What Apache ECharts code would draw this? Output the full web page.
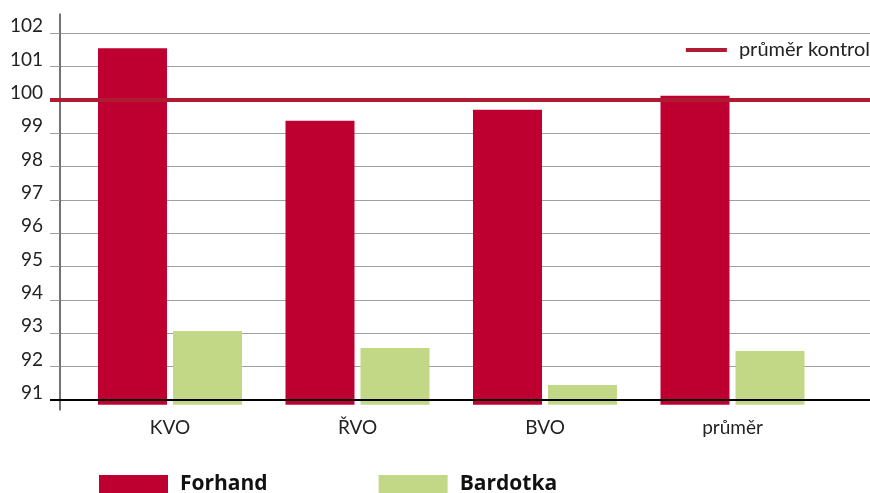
<!DOCTYPE html>
<html><head><meta charset="utf-8">
<script src="https://cdn.jsdelivr.net/npm/echarts@6/dist/echarts.min.js"></script>
<style>html,body{margin:0;padding:0;background:#fff}#c{width:870px;height:493px}</style>
</head><body><div id="c"></div>
<script>
const categories = ['KVO', 'ŘVO', 'BVO', 'průměr'];
const forhand = [101.55, 99.38, 99.71, 100.13];
const bardotka = [93.07, 92.56, 91.45, 92.47];
const controlMean = 100;
const baseLine = 91;
const yTicks = [91, 92, 93, 94, 95, 96, 97, 98, 99, 100, 101, 102];

const RED = '#be0030', GREEN = '#c3d887', LINE_RED = '#b01a32';
const FONT = 'Lato';

const chart = echarts.init(document.getElementById('c'), null, {renderer: 'canvas'});
chart.setOption({
  animation: false,
  backgroundColor: '#fff',
  grid: [
    {left: 50, right: 0, top: 14, bottom: 83, outerBoundsMode: 'none', containLabel: false},
    {left: 76.25, right: 43.75, top: 14, bottom: 88.3, outerBoundsMode: 'none', containLabel: false}
  ],
  legend: [
    {
      data: ['průměr kontrol'], right: 0, top: 40, icon: 'rect', padding: 0,
      itemWidth: 41, itemHeight: 4, itemStyle: {color: LINE_RED},
      textStyle: {fontFamily: FONT, fontSize: 20, color: '#222', lineHeight: 20, padding: [0, 0, 0, 7]}
    },
    {
      data: ['Forhand', 'Bardotka'], left: 99, top: 474, icon: 'rect', padding: 0,
      itemWidth: 69, itemHeight: 19, itemGap: 111,
      textStyle: {fontFamily: 'Open Sans', fontWeight: 'bold', fontSize: 21, color: '#111', padding: [0, 0, 0, 7]}
    }
  ],
  xAxis: [
    {gridIndex: 0, type: 'category', data: categories, show: false},
    {gridIndex: 1, type: 'category', data: categories,
     axisLine: {show: false}, axisTick: {show: false},
     axisLabel: {fontFamily: FONT, fontSize: 19, color: '#222', margin: 14}}
  ],
  yAxis: [
    {gridIndex: 0, type: 'value', min: 90.7, max: 102.58, interval: 1, offset: -10,
     axisLine: {show: true, lineStyle: {color: '#444', width: 1.5}},
     axisTick: {show: true, length: 10, lineStyle: {color: '#a0a0a0'},
       customValues: yTicks},
     splitLine: {show: true, lineStyle: {color: '#a0a0a0', width: 1}},
     axisLabel: {fontFamily: FONT, fontSize: 19, color: '#222', margin: 17,
       verticalAlign: 'bottom', lineHeight: 14, customValues: yTicks}
    },
    {gridIndex: 1, type: 'value', min: 90.86, max: 102.58, show: false, splitLine: {show: false}}
  ],
  series: [
    {
      name: 'Forhand', type: 'bar', xAxisIndex: 1, yAxisIndex: 1, data: forhand,
      barWidth: 69, barGap: '8.7%', itemStyle: {color: RED}
    },
    {
      name: 'Bardotka', type: 'bar', xAxisIndex: 1, yAxisIndex: 1, data: bardotka,
      barWidth: 69, barGap: '8.7%', itemStyle: {color: GREEN}
    },
    {
      name: 'průměr kontrol', type: 'line', xAxisIndex: 0, yAxisIndex: 0,
      data: categories.map(() => '-'), symbol: 'none',
      lineStyle: {color: LINE_RED, width: 4}, itemStyle: {color: LINE_RED},
      markLine: {
        silent: true, symbol: ['none', 'none'], label: {show: false}, z: 10,
        data: [
          {yAxis: controlMean, lineStyle: {color: LINE_RED, width: 4, type: 'solid'}},
          {yAxis: baseLine, lineStyle: {color: '#000', width: 2, type: 'solid'}}
        ]
      }
    }
  ]
});
</script></body></html>
